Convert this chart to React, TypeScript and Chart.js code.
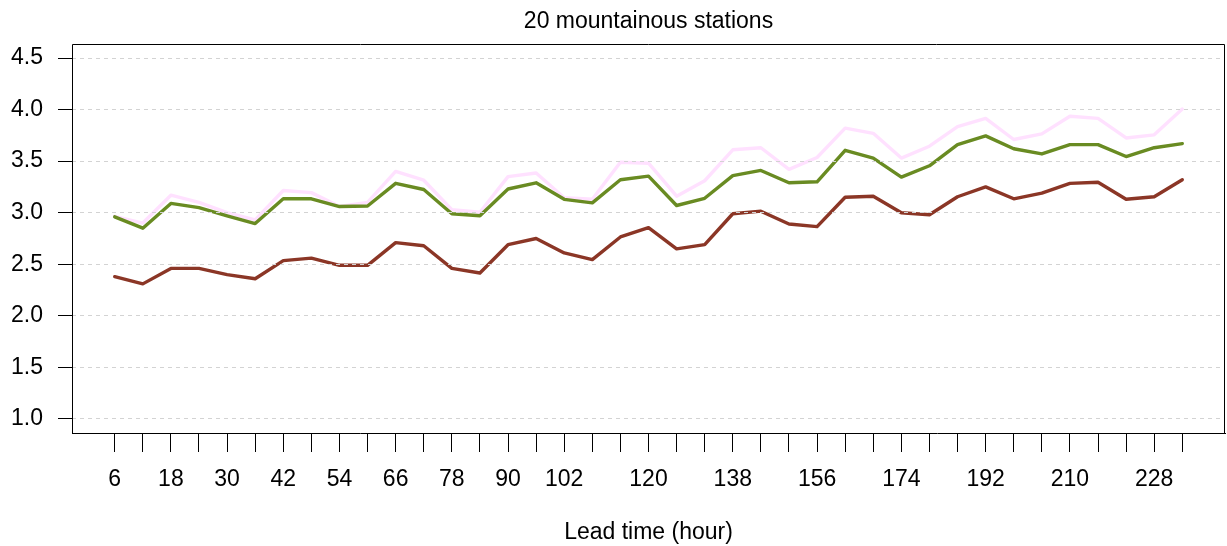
import React, { useEffect, useRef } from "react";
import { Chart, registerables } from "chart.js";

Chart.register(...registerables);

const leadTimes = [6, 12, 18, 24, 30, 36, 42, 48, 54, 60, 66, 72, 78, 84, 90, 96, 102, 108, 114, 120, 126, 132, 138, 144, 150, 156, 162, 168, 174, 180, 186, 192, 198, 204, 210, 216, 222, 228, 234];
const labeledTicks = [6, 18, 30, 42, 54, 66, 78, 90, 102, 120, 138, 156, 174, 192, 210, 228];
const yTicks = [1.0, 1.5, 2.0, 2.5, 3.0, 3.5, 4.0, 4.5];

const redSeries = [2.38, 2.31, 2.46, 2.46, 2.40, 2.36, 2.535, 2.56, 2.49, 2.49, 2.71, 2.68, 2.46, 2.415, 2.69, 2.75, 2.61, 2.545, 2.765, 2.855, 2.65, 2.69, 2.99, 3.015, 2.89, 2.865, 3.15, 3.16, 3.0, 2.98, 3.155, 3.25, 3.135, 3.19, 3.285, 3.295, 3.13, 3.155, 3.32];
const greenSeries = [2.96, 2.85, 3.09, 3.05, 2.97, 2.895, 3.135, 3.135, 3.06, 3.065, 3.285, 3.225, 2.99, 2.97, 3.23, 3.29, 3.13, 3.095, 3.32, 3.355, 3.07, 3.14, 3.36, 3.41, 3.29, 3.30, 3.605, 3.53, 3.345, 3.455, 3.66, 3.745, 3.62, 3.57, 3.66, 3.66, 3.545, 3.63, 3.67];
const pinkSeries = [2.965, 2.90, 3.17, 3.10, 3.00, 2.93, 3.215, 3.195, 3.06, 3.10, 3.40, 3.315, 3.03, 3.005, 3.35, 3.385, 3.145, 3.13, 3.49, 3.48, 3.16, 3.31, 3.61, 3.63, 3.42, 3.535, 3.82, 3.77, 3.53, 3.645, 3.835, 3.915, 3.71, 3.765, 3.935, 3.915, 3.725, 3.755, 4.005];

const TITLE = "20 mountainous stations";
const FAMILY = "'Liberation Sans', Arial, Helvetica, sans-serif";
const FONT = { family: FAMILY, size: 23, weight: "normal" as const };

const boxPlugin = {
  id: "boxPlugin",
  afterDraw(chart: any) {
    const { ctx, chartArea } = chart;
    ctx.save();
    ctx.strokeStyle = "#000";
    ctx.lineWidth = 1;
    const l = Math.round(chartArea.left) + 0.5;
    const r = Math.round(chartArea.right) - 0.5;
    const t = Math.round(chartArea.top) + 0.5;
    const b = Math.round(chartArea.bottom) + 0.5;
    ctx.beginPath();
    ctx.moveTo(l, b);
    ctx.lineTo(l, t);
    ctx.lineTo(r, t);
    ctx.lineTo(r, b);
    ctx.stroke();
    ctx.fillStyle = "#000";
    ctx.font = `23px ${FAMILY}`;
    ctx.textAlign = "center";
    ctx.textBaseline = "middle";
    ctx.fillText(TITLE, (chartArea.left + chartArea.right) / 2, 22);
    ctx.restore();
  },
};

export default function App() {
  const ref = useRef<HTMLCanvasElement | null>(null);

  useEffect(() => {
    document.body.style.margin = "0";
    document.body.style.overflow = "hidden";
    const mk = (label: string, data: number[], color: string) => ({
      label,
      data: leadTimes.map((x, i) => ({ x, y: data[i] })),
      borderColor: color,
      backgroundColor: color,
      borderWidth: 3.4,
      pointRadius: 0,
      tension: 0,
      fill: false,
      borderCapStyle: "round" as const,
      borderJoinStyle: "round" as const,
    });
    const chart = new Chart(ref.current as HTMLCanvasElement, {
      type: "line",
      data: {
        datasets: [
          mk("A", redSeries, "#8B3626"),
          mk("B", greenSeries, "#698B22"),
          mk("C", pinkSeries, "#FFE1FF"),
        ],
      },
      plugins: [boxPlugin],
      options: {
        responsive: false,
        animation: false,
        layout: { padding: { left: 0, right: 2, top: 44, bottom: 0 } },
        plugins: {
          legend: { display: false },
          tooltip: { enabled: false },
          title: { display: false },
        },
        scales: {
          x: {
            type: "linear",
            min: -3.12,
            max: 243.12,
            afterBuildTicks: (s: any) => {
              s.ticks = leadTimes.map((v) => ({ value: v }));
            },
            afterFit: (s: any) => {
              s.height = 113;
            },
            ticks: {
              autoSkip: false,
              maxRotation: 0,
              minRotation: 0,
              padding: 14,
              color: "#000",
              font: FONT,
              callback: (v: any) => (labeledTicks.includes(Number(v)) ? String(v) : ""),
            },
            grid: {
              drawOnChartArea: false,
              drawTicks: true,
              tickLength: 19,
              tickColor: "#000",
              color: "#000",
            },
            border: { display: true, color: "#000", width: 1 },
            title: {
              display: true,
              text: "Lead time (hour)",
              font: FONT,
              color: "#000",
              padding: { top: 0, bottom: 0 },
            },
          },
          y: {
            type: "linear",
            min: 0.864,
            max: 4.636,
            afterBuildTicks: (s: any) => {
              s.ticks = yTicks.map((v) => ({ value: v }));
            },
            afterFit: (s: any) => {
              s.width = 72;
            },
            ticks: {
              padding: 15,
              color: "#000",
              font: FONT,
              callback: (v: any) => Number(v).toFixed(1),
            },
            grid: {
              color: "#D3D3D3",
              tickBorderDash: [],
              tickLength: 14,
              tickColor: "#000",
              lineWidth: 1,
              z: 1,
            },
            border: { display: false, dash: [4, 4] },
          },
        },
      } as any,
    });
    return () => chart.destroy();
  }, []);

  return (
    <div style={{ position: "absolute", left: 0, top: 0, width: 1227, height: 546 }}>
      <canvas ref={ref} width={1227} height={546} />
    </div>
  );
}
